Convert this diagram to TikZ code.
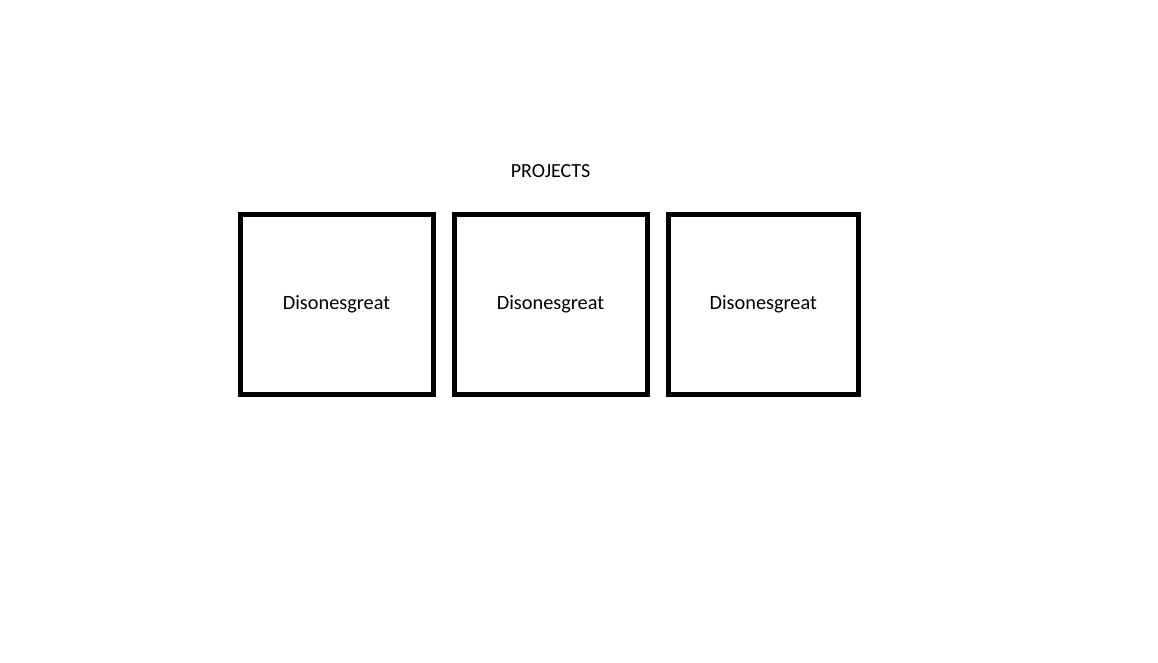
\documentclass[tikz,border=0pt]{standalone}
\usepackage{fontspec}
\setmainfont{Carlito}
\usetikzlibrary{positioning}

\begin{document}
\begin{tikzpicture}[x=1pt, y=-1pt,
	project/.style={draw, line width=5pt, rectangle, inner sep=0, minimum width=193pt, minimum height=180pt, font=\fontsize{20.3}{22}\selectfont}]
		\useasboundingbox (0,0) rectangle (1158,662);
		\node [project] (first) at (336.5,304) {Disonesgreat};
		\node [project, right=16 of first] (second) {Disonesgreat};
		\node [project, minimum width=189.5pt, right=16.5 of second] (third) {Disonesgreat};
		\node [font=\fontsize{20}{22}\selectfont] (title) at (550.5,171) {PROJECTS};
	\end{tikzpicture}
\end{document}
